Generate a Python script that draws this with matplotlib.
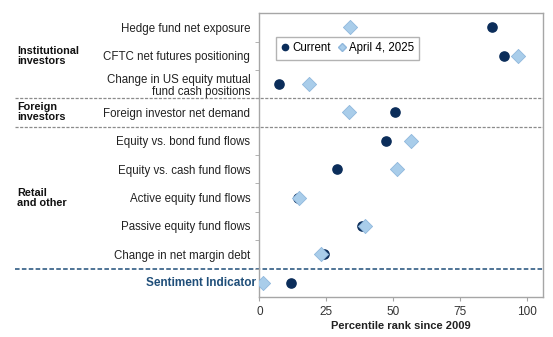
import matplotlib.pyplot as plt
from matplotlib.lines import Line2D
from matplotlib.ticker import FixedLocator

plt.rcParams["font.family"] = ["Liberation Sans", "DejaVu Sans"]

indicators = [
    "Hedge fund net exposure",
    "CFTC net futures positioning",
    "Change in US equity mutual\nfund cash positions",
    "Foreign investor net demand",
    "Equity vs. bond fund flows",
    "Equity vs. cash fund flows",
    "Active equity fund flows",
    "Passive equity fund flows",
    "Change in net margin debt",
    "Sentiment Indicator",
]
current = [87, 91.5, 7.5, 50.5, 47.5, 29, 14.3, 38.5, 24, 12]
april_4 = [34, 96.5, 18.5, 33.5, 56.5, 51.5, 14.8, 39.5, 23, 1.2]
groups = ["Institutional\ninvestors", "Foreign\ninvestors", "Retail\nand other"]
group_rows = [1, 3, 6]

navy = "#0b2d5a"
light = "#a9cdea"
spine_grey = "#a6a6a6"

fig, ax = plt.subplots(figsize=(5.53, 3.37), dpi=100)
fig.subplots_adjust(left=0.469, right=0.982, top=0.961, bottom=0.119)

rows = list(range(len(indicators)))
ax.scatter(current, rows, s=44, marker="o", color=navy, zorder=3)
ax.scatter(april_4, rows, s=52, marker="D", color=light,
           edgecolors="#8fb7dc", linewidths=0.6, zorder=4)

ax.set_xlim(0, 106)
ax.set_ylim(len(indicators) - 0.5, -0.5)
ax.set_xticks([0, 25, 50, 75, 100])
ax.set_yticks(rows)
# the summary row gets its own label, drawn closer to the axis
ax.set_yticklabels(indicators[:-1] + [""], fontsize=8.3, color="#222222", linespacing=1.0)
ax.text(-0.013, rows[-1], indicators[-1], transform=ax.get_yaxis_transform(),
        ha="right", va="center", fontsize=8.5, fontweight="bold", color="#1f4e79")

ax.yaxis.set_minor_locator(FixedLocator([r + 0.5 for r in rows[:-1]]))
ax.tick_params(axis="y", which="major", length=0, pad=6.5)
ax.tick_params(axis="y", which="minor", length=3, color=spine_grey)
ax.tick_params(axis="x", length=3, color=spine_grey, labelsize=8.5, labelcolor="#333333")
for s in ax.spines.values():
    s.set_color(spine_grey)
    s.set_linewidth(1.0)

ax.set_xlabel("Percentile rank since 2009", fontsize=8, fontweight="bold",
              color="#222222", labelpad=2)

# section separators
for y in [2.5, 3.5]:
    ax.axhline(y, xmin=-0.86, xmax=1.0, color="#8c8c8c", ls=(0, (2.5, 1.2)),
               lw=0.9, clip_on=False, zorder=1)
ax.axhline(8.5, xmin=-0.86, xmax=1.0, color="#1f4e79", ls=(0, (3, 1.5)),
           lw=1.1, clip_on=False, zorder=1)

for label, y in zip(groups, group_rows):
    ax.text(-0.855, y, label, transform=ax.get_yaxis_transform(), fontsize=7.8,
            fontweight="bold", va="center", ha="left", linespacing=1.0,
            color="#111111")

handles = [
    Line2D([], [], marker="o", ls="", color=navy, markersize=4.5, label="Current"),
    Line2D([], [], marker="D", ls="", color=light, markeredgecolor="#8fb7dc",
           markersize=4, label="April 4, 2025"),
]
ax.legend(handles=handles, loc="upper left", bbox_to_anchor=(0.057, 0.915),
          ncol=2, fontsize=8.3, frameon=True, fancybox=False, edgecolor="#a0a0a0",
          handlelength=0.8, handletextpad=0.2, columnspacing=0.6,
          borderpad=0.45, borderaxespad=0)

fig.savefig("out.png", dpi=100)
